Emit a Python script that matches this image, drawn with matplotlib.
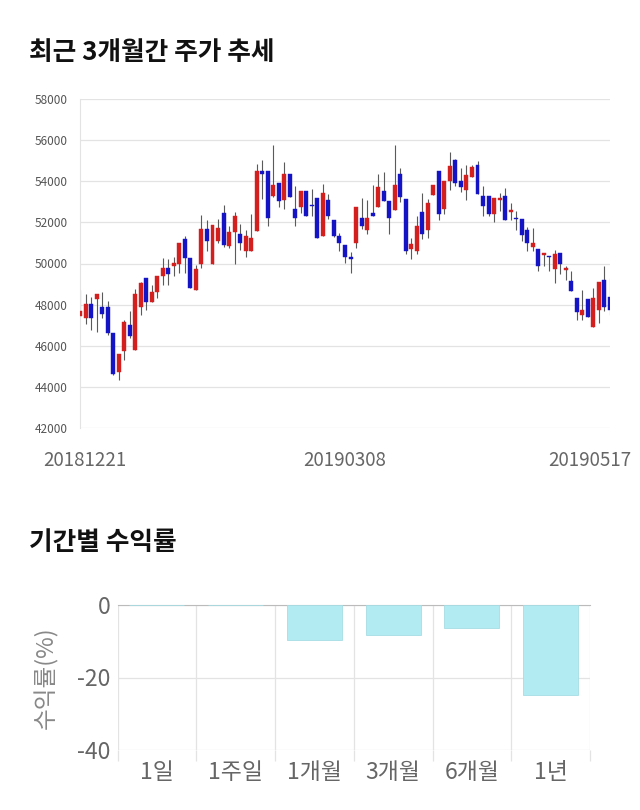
import numpy as np
import matplotlib
matplotlib.use('Agg')
import matplotlib.pyplot as plt
import matplotlib.transforms as mtransforms

plt.rcParams['font.family'] = ['Noto Sans CJK KR', 'DejaVu Sans']

# Daily prices (3 months)
opens = [47450, 47330, 48030, 48260, 47870, 47900, 46600, 44700, 45740, 47010,
         45790, 47900, 49280, 48150, 48600, 49370, 49770, 49900, 50000, 51200,
         50290, 48700, 49980, 51690, 50000, 51110, 52440, 50830, 51510, 51430,
         50620, 50620, 51560, 54520, 54520, 53300, 53920, 53110, 54330, 52650,
         52730, 53510, 52830, 53190, 51320, 53110, 52130, 51320, 50910, 50340,
         51020, 52210, 51630, 52450, 52730, 53510, 53020, 52600, 54360, 53140,
         50700, 50620, 52520, 51630, 53340, 54520, 52650, 54000, 55010, 54000,
         53590, 54210, 54810, 53300, 53300, 52420, 53070, 53300, 52500, 52210,
         52180, 51610, 50810, 50720, 50410, 50360, 49710, 50520, 49660, 49170,
         48330, 47510, 48280, 46890, 47760, 49220, 48370]
highs = [48700, 48500, 48390, 48500, 48630, 48180, 46600, 45580, 47250, 47690,
         48760, 49120, 49280, 48960, 49370, 50290, 50230, 50340, 50990, 51320,
         50290, 49930, 52370, 52130, 51890, 52150, 52850, 51810, 52520, 51910,
         51650, 52390, 54850, 55010, 54520, 55740, 53920, 54930, 54330, 53790,
         53510, 53510, 53630, 53190, 53870, 53400, 52130, 51470, 50910, 50540,
         52730, 53190, 53110, 53840, 54360, 54440, 53020, 55740, 54630, 53140,
         51230, 52330, 53430, 53140, 53470, 54520, 54000, 55410, 55090, 54650,
         54810, 54810, 54980, 53760, 53300, 53190, 53430, 53670, 52940, 52570,
         52180, 51760, 51740, 50720, 50520, 50360, 50650, 50520, 49870, 49630,
         48330, 48730, 48280, 48820, 49110, 49870, 49300]
lows = [47400, 47050, 46760, 46680, 47330, 46520, 44600, 44320, 45300, 46360,
        45790, 47500, 47740, 48150, 48300, 48960, 48960, 49370, 49530, 49530,
        48830, 48700, 49770, 50590, 50000, 51000, 50800, 50740, 49960, 50640,
        50340, 50620, 51560, 53140, 51840, 53220, 52730, 52650, 53220, 51840,
        52450, 52330, 52330, 51220, 51320, 52170, 51270, 50620, 50020, 49560,
        50730, 51680, 51430, 52300, 52730, 53020, 51430, 52600, 53000, 50460,
        50240, 50460, 51190, 51240, 53340, 52100, 52420, 53590, 53750, 53460,
        53110, 54210, 53400, 52290, 52290, 52000, 52540, 52100, 52100, 51610,
        51070, 50600, 50600, 49630, 49870, 49620, 49060, 49500, 49220, 48680,
        47270, 47270, 47400, 46890, 47110, 47670, 47510]
closes = [47700, 48030, 47330, 48500, 47540, 46600, 44650, 45580, 47140, 46490,
          48500, 49040, 48150, 48630, 49370, 49770, 49480, 50000, 50990, 50290,
          48830, 49720, 51690, 51110, 51890, 51720, 50890, 51510, 52330, 51020,
          51320, 51240, 54520, 54330, 52210, 53820, 53020, 54330, 53220, 52210,
          53510, 52330, 52790, 51220, 53430, 52330, 51320, 51020, 50340, 50240,
          52730, 51800, 52210, 52330, 53710, 53020, 52210, 53820, 53220, 50620,
          50950, 51800, 51430, 52940, 53820, 52420, 54000, 54730, 53920, 53710,
          54290, 54700, 53400, 52780, 52420, 53190, 53190, 52100, 52590, 52170,
          51400, 51010, 51010, 49900, 50520, 50320, 50440, 50000, 49760, 48680,
          47640, 47760, 47400, 48330, 49110, 47890, 47760]

date_labels = ['20181221', '20190308', '20190517']
date_idx = [0, 48, 96]

# Returns by period
periods = ['1일', '1주일', '1개월', '3개월', '6개월', '1년']
returns = [0.0, 0.0, -9.7, -8.2, -6.4, -24.7]

red = '#d41f1f'
blue = '#1414c4'
grid_c = '#e3e3e3'
text_c = '#666666'

fig = plt.figure(figsize=(6.4, 8.1), dpi=100)

fig.text(29/640, 1 - 52/810, '최근 3개월간 주가 추세', fontsize=18.5, fontweight='bold',
         va='center', ha='left', color='#111111')
fig.text(29/640, 1 - 543/810, '기간별 수익률', fontsize=18.5, fontweight='bold',
         va='center', ha='left', color='#111111')

# ---- candlestick chart
ax = fig.add_axes([80/640, 1 - 428/810, 530/640, 329/810])
x = np.arange(len(opens))
o = np.array(opens)
c = np.array(closes)
colors = [red if cc >= oo else blue for oo, cc in zip(o, c)]
ax.vlines(x, lows, highs, color='#5a5a5a', linewidth=0.8, zorder=2)
body_bottom = np.minimum(o, c)
body_h = np.maximum(np.abs(c - o), 40)
ax.bar(x, body_h, bottom=body_bottom, width=0.72, color=colors,
       edgecolor=colors, linewidth=0.3, zorder=3)

ax.set_xlim(0, len(opens) - 1)
ax.set_ylim(42000, 58000)
ax.set_yticks(np.arange(42000, 58001, 2000))
ax.set_yticklabels([str(v) for v in range(42000, 58001, 2000)])
ax.tick_params(axis='y', length=0, labelsize=8.5, colors='#555555', pad=9)
ax.grid(axis='y', color=grid_c, linewidth=0.9)
ax.set_axisbelow(True)
for s in ['top', 'right', 'bottom']:
    ax.spines[s].set_visible(False)
ax.spines['left'].set_color(grid_c)

ax.set_xticks(date_idx)
ax.set_xticklabels(date_labels)
ax.tick_params(axis='x', length=0, labelsize=13.5, colors=text_c, pad=16)
lbls = ax.get_xticklabels()
lbls[0].set_transform(lbls[0].get_transform() + mtransforms.ScaledTranslation(5/100, 0, fig.dpi_scale_trans))
lbls[-1].set_ha('right')
lbls[-1].set_transform(lbls[-1].get_transform() + mtransforms.ScaledTranslation(21/100, 0, fig.dpi_scale_trans))

# ---- returns bar chart
ax2 = fig.add_axes([117.5/640, 1 - 750/810, 472.5/640, 145/810])
xb = np.arange(len(periods))
ax2.bar(xb, returns, width=0.7, color='#b2ebf2', edgecolor='#a6dde4', linewidth=0.6, zorder=3)
ax2.set_xlim(-0.5, len(periods) - 0.5)
ax2.set_ylim(-40, 0)
ax2.set_yticks([-40, -20, 0])
ax2.set_yticklabels(['-40', '-20', '0'])
ax2.tick_params(axis='y', length=0, labelsize=16.5, colors=text_c, pad=5)
ax2.set_xticks(xb)
ax2.set_xticklabels(periods)
ax2.tick_params(axis='x', which='major', length=0, labelsize=16.5, colors=text_c, pad=8)
ax2.set_xticks(np.arange(-0.5, len(periods)), minor=True)
ax2.tick_params(axis='x', which='minor', length=8, color=grid_c, width=0.9)
ax2.grid(axis='y', color=grid_c, linewidth=0.9)
ax2.grid(axis='x', which='minor', color=grid_c, linewidth=0.9)
ax2.set_axisbelow(True)
for s in ['left', 'right', 'bottom']:
    ax2.spines[s].set_visible(False)
ax2.spines['top'].set_color('#bbbbbb')
ax2.set_ylabel('수익률(%)', fontsize=17, color='#888888', labelpad=14, fontweight='light')

fig.savefig('out.png', dpi=100)
